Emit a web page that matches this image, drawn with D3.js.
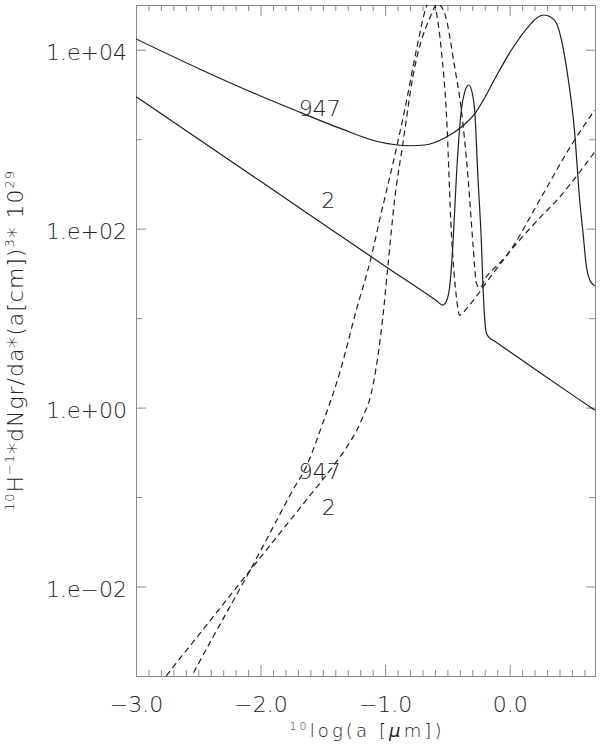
<!DOCTYPE html>
<html><head><meta charset="utf-8">
<script src="https://cdn.jsdelivr.net/npm/d3@7"></script>
<style>body{margin:0;background:#fff}</style>
</head><body><svg id="c" width="600" height="750"></svg>
<script>
// ---- data (x = log10(a [um]), y = value) ----
const solid947X = [-3.0,-2.49,-2.0,-1.687,-1.365,-1.044,-0.803,-0.683,-0.508,-0.377,-0.281,-0.193,-0.107,0.024,0.161,0.217,0.273,0.329,0.375,0.455,0.522,0.562,0.589,0.616,0.643,0.683];
const solid947Y = [13200,6100,3040,2010,1330,930,845,861,1060,1406,1914,3041,5082,10450,18880,22650,24450,23230,19900,6460,1170,209,89.5,37.6,26.7,22.9];

const solid2X = [-3.0,-2.0,-1.0,-0.586,-0.538,-0.522,-0.498,-0.482,-0.455,-0.428,-0.388,-0.361,-0.329,-0.297,-0.281,-0.255,-0.227,-0.214,-0.201,-0.187,-0.161,-0.117,-0.037,0.241,0.562,0.683];
const solid2Y = [2985,338,38.1,15.6,14.0,14.4,16.8,22.3,69.2,378,2118,3373,4036,3119,2118,378,69.2,22.3,10.0,6.82,6.0,5.48,4.59,2.47,1.22,0.94];

const dashed947X = [-2.651,-2.552,-2.386,-2.225,-2.088,-1.928,-1.741,-1.633,-1.500,-1.365,-1.231,-1.111,-1.044,-0.900,-0.843,-0.749,-0.669,-0.627,-0.589,-0.549,-0.508,-0.468,-0.428,-0.402,-0.337,-0.241,-0.161,0.024,0.241,0.506,0.683];
const dashed947Y = [0.00055,0.001,0.00266,0.00672,0.0149,0.0387,0.120,0.219,0.673,2.44,12.3,48.6,125,908,2118,9930,30300,39800,26600,9930,1960,89.5,17.4,10.8,13.3,19.6,28.1,62.4,209,908,2118];

const dashed2X = [-2.851,-2.757,-2.490,-2.222,-1.954,-1.767,-1.606,-1.392,-1.312,-1.231,-1.165,-1.125,-1.071,-1.018,-0.978,-0.924,-0.857,-0.777,-0.643,-0.578,-0.522,-0.442,-0.388,-0.335,-0.295,-0.267,-0.241,-0.187,-0.080,0.080,0.241,0.402,0.562,0.683];
const dashed2Y = [0.00066,0.001,0.00295,0.00869,0.0256,0.0541,0.103,0.247,0.354,0.548,0.871,1.22,2.86,10.4,37.6,209,899,5000,22400,32400,25500,6460,2118,381,68.7,24.5,21.7,29.0,41.3,74.7,132,226,430,719];

const xMajorTicks = [-3,-2,-1,0];
const xTickLabels = ["\u22123.0","\u22122.0","\u22121.0","0.0"];
const yMajorTicks = [1e-2,1e0,1e2,1e4];
const yTickLabels = ["1.e\u221202","1.e+00","1.e+02","1.e+04"];
const yMinorTicks = [1e-1,1e1,1e3];
const labelText = ["947","2","947","2"];
const labelX = [-1.525,-1.457,-1.525,-1.453];
const labelY = [1815,170,0.159,0.063];

// ---- layout ----
const L=136, R=595, T=5, B=676;
const svg = d3.select("#c");
const x = d3.scaleLinear().domain([-3,0.685]).range([L,R]);
const y = d3.scaleLog().domain([1e-3, Math.pow(10,4.5)]).range([B,T]);
const xMinor = d3.range(-30,7).map(d=>d/10).filter(d=>Math.abs(d-Math.round(d))>1e-6);

const AX="#8a8a8a", TX="#222", FONT="DejaVu Sans, Liberation Sans, sans-serif", FW=200;

function styleAxis(g){
  g.select(".domain").remove();
  g.selectAll(".tick line").attr("stroke",AX);
  g.selectAll("text").attr("font-family",FONT).attr("font-weight",FW).attr("font-size",22).attr("fill",TX);
  g.attr("font-family",null).attr("font-size",null);
}

svg.append("g").attr("transform",`translate(0,${B})`)
  .call(d3.axisBottom(x).tickValues(xMajorTicks).tickFormat((d,i)=>xTickLabels[i]).tickSizeInner(-11).tickSizeOuter(0).tickPadding(20)).call(styleAxis);
svg.append("g").attr("transform",`translate(0,${B})`)
  .call(d3.axisBottom(x).tickValues(xMinor).tickFormat("").tickSizeInner(-6).tickSizeOuter(0)).call(styleAxis);
svg.append("g").attr("transform",`translate(0,${T})`)
  .call(d3.axisTop(x).tickValues(xMajorTicks).tickFormat("").tickSizeInner(-11).tickSizeOuter(0)).call(styleAxis);
svg.append("g").attr("transform",`translate(0,${T})`)
  .call(d3.axisTop(x).tickValues(xMinor).tickFormat("").tickSizeInner(-6).tickSizeOuter(0)).call(styleAxis);

const yl = svg.append("g").attr("transform",`translate(${L},0)`)
  .call(d3.axisLeft(y).tickValues(yMajorTicks).tickFormat((d,i)=>yTickLabels[i]).tickSizeInner(-10).tickSizeOuter(0).tickPadding(9)).call(styleAxis);
yl.selectAll("text").attr("dy","0.45em");
svg.append("g").attr("transform",`translate(${L},0)`)
  .call(d3.axisLeft(y).tickValues(yMinorTicks).tickFormat("").tickSizeInner(-6).tickSizeOuter(0)).call(styleAxis);
svg.append("g").attr("transform",`translate(${R},0)`)
  .call(d3.axisRight(y).tickValues(yMajorTicks).tickFormat("").tickSizeInner(-9).tickSizeOuter(0)).call(styleAxis);
svg.append("g").attr("transform",`translate(${R},0)`)
  .call(d3.axisRight(y).tickValues(yMinorTicks).tickFormat("").tickSizeInner(-6).tickSizeOuter(0)).call(styleAxis);

svg.append("rect").attr("x",L+0.5).attr("y",T+0.5).attr("width",R-L).attr("height",B-T)
  .attr("fill","none").attr("stroke",AX).attr("stroke-width",1);

// ---- curves ----
svg.append("clipPath").attr("id","clip").append("rect").attr("x",L).attr("y",T).attr("width",R-L+1).attr("height",B-T);
const line = d3.line().x(d=>x(d[0])).y(d=>y(d[1])).curve(d3.curveMonotoneX);
const series = [
  {xs:solid947X, ys:solid947Y, dash:null},
  {xs:solid2X, ys:solid2Y, dash:null},
  {xs:dashed947X, ys:dashed947Y, dash:"6,4"},
  {xs:dashed2X, ys:dashed2Y, dash:"6,4"}
];
const cg = svg.append("g").attr("clip-path","url(#clip)");
series.forEach(s=>{
  cg.append("path").datum(s.xs.map((v,i)=>[v,s.ys[i]]))
    .attr("d",line).attr("fill","none").attr("stroke","#1e1e1e").attr("stroke-width",1.2)
    .attr("stroke-dasharray",s.dash);
});

// ---- curve labels ----
labelText.forEach((t,i)=>{
  svg.append("text").attr("x",x(labelX[i])).attr("y",y(labelY[i]))
    .attr("text-anchor","middle").attr("font-family",FONT).attr("font-weight",FW).attr("font-size",22).attr("fill",TX).text(t);
});

// ---- axis titles ----
const xt = svg.append("text").attr("x",(L+R)/2).attr("y",737).attr("text-anchor","middle")
  .attr("font-family",FONT).attr("font-weight",FW).attr("font-size",18).attr("fill",TX)
  .attr("textLength",152).attr("lengthAdjust","spacing");
xt.append("tspan").attr("font-size",11).attr("dy",-7).text("10");
xt.append("tspan").attr("dy",7).text("log(a [");
xt.append("tspan").attr("font-style","italic").text("\u03bc");
xt.append("tspan").text("m])");

const yt = svg.append("text").attr("transform","translate(23,341) rotate(-90)").attr("text-anchor","middle")
  .attr("font-family",FONT).attr("font-weight",FW).attr("font-size",22).attr("fill",TX)
  .attr("textLength",340).attr("lengthAdjust","spacing");
yt.append("tspan").attr("font-size",13).attr("dy",-9).text("10");
yt.append("tspan").attr("dy",9).text("H");
yt.append("tspan").attr("font-size",13).attr("dy",-9).text("\u22121");
yt.append("tspan").attr("dy",9).text("*dNgr/da*(a[cm])");
yt.append("tspan").attr("font-size",13).attr("dy",-9).text("3");
yt.append("tspan").attr("dy",9).text("* 10");
yt.append("tspan").attr("font-size",13).attr("dy",-9).text("29");
</script></body></html>
